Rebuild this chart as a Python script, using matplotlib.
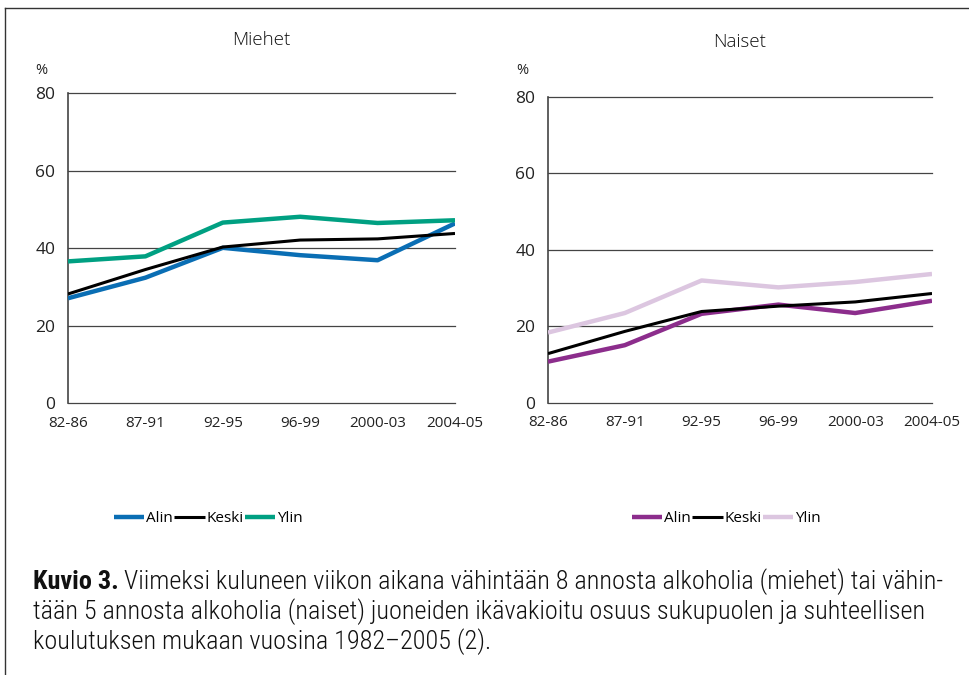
import matplotlib
matplotlib.use("Agg")
import matplotlib.pyplot as plt
from matplotlib.lines import Line2D
from matplotlib import font_manager

categories = ["82-86", "87-91", "92-95", "96-99", "2000-03", "2004-05"]
series_names = ["Alin", "Keski", "Ylin"]

men_alin = [27.1, 32.4, 40.1, 38.2, 36.9, 46.4]
men_keski = [28.2, 34.5, 40.3, 42.1, 42.4, 43.8]
men_ylin = [36.6, 37.9, 46.6, 48.1, 46.5, 47.2]

women_alin = [10.8, 15.1, 23.3, 25.7, 23.5, 26.7]
women_keski = [12.9, 18.7, 23.9, 25.3, 26.4, 28.6]
women_ylin = [18.4, 23.5, 32.0, 30.2, 31.6, 33.7]

y_ticks = [0, 20, 40, 60, 80]

men_colors = ["#0a6eb4", "#000000", "#00a082"]
women_colors = ["#8c2d8c", "#000000", "#dcc6e0"]
widths = [3.2, 2.2, 3.2]

names = {f.name for f in font_manager.fontManager.ttflist}
narrow = "Roboto"
for cand in ["Liberation Sans Narrow", "Roboto Condensed", "Open Sans Condensed"]:
    if cand in names:
        narrow = cand
        break
tickfont = "Open Sans"

fig = plt.figure(figsize=(9.7, 6.75), dpi=100)

# frame
fig.add_artist(Line2D([5/970, 5/970], [0, 1 - 8/675], color="#333333", lw=1, transform=fig.transFigure))
fig.add_artist(Line2D([5/970, 1], [1 - 8/675, 1 - 8/675], color="#333333", lw=1, transform=fig.transFigure))

def panel(rect, title, data, colors, title_y, pct_x):
    ax = fig.add_axes(rect)
    x = list(range(len(categories)))
    for vals, c, w, n in zip(data, colors, widths, series_names):
        ax.plot(x, vals, color=c, lw=w, label=n, solid_capstyle="butt", zorder=3)
    ax.set_xlim(0, len(categories) - 1)
    ax.set_ylim(0, 80)
    ax.set_yticks(y_ticks)
    ax.set_xticks(x)
    ax.set_xticklabels(categories, fontsize=11, family=tickfont, color="#222222")
    ax.set_yticklabels([str(v) for v in y_ticks], fontsize=12.5, family=tickfont, color="#222222")
    ax.tick_params(length=0, pad=9)
    ax.tick_params(axis="x", pad=9)
    for v in y_ticks:
        ax.axhline(v, color="#444444", lw=0.9, zorder=1, clip_on=False)
    for s in ["top", "right", "bottom"]:
        ax.spines[s].set_visible(False)
    ax.spines["left"].set_color("#444444")
    ax.spines["left"].set_linewidth(1.2)
    fig.text(rect[0] + rect[2] / 2, title_y, title, ha="center", va="center",
             fontsize=13.5, family=tickfont, weight="light", color="#111111")
    fig.text(pct_x, 1 - 70/675, "%", ha="center", va="center", fontsize=10.5,
             family=tickfont, color="#222222")
    return ax

axL = panel([68/970, 1 - 403.4/675, (455 - 68)/970, (403.4 - 93)/675], "Miehet",
            [men_alin, men_keski, men_ylin], men_colors, 1 - 40/675, 41/970)
axR = panel([548/970, 1 - 403/675, (932 - 548)/970, (403 - 96.7)/675], "Naiset",
            [women_alin, women_keski, women_ylin], women_colors, 1 - 42/675, 522/970)

for ax, cx in [(axL, 208/970), (axR, 726/970)]:
    h, l = ax.get_legend_handles_labels()
    fig.legend(h, l, loc="center", bbox_to_anchor=(cx, 1 - 519/675), ncol=3, frameon=False,
               handlelength=2.0, handletextpad=0.1, columnspacing=0.1,
               prop={"family": tickfont, "size": 11})

# caption
cap_lines = [
    "Viimeksi kuluneen viikon aikana vähintään 8 annosta alkoholia (miehet) tai vähin-",
    "tään 5 annosta alkoholia (naiset) juoneiden ikävakioitu osuus sukupuolen ja suhteellisen",
    "koulutuksen mukaan vuosina 1982–2005 (2).",
]
cap_x = 33/970
cap_ys = [582, 612, 642]
fs = 14.5
bold = fig.text(cap_x, 1 - cap_ys[0]/675, "Kuvio 3.", fontsize=fs, family=narrow,
                weight="bold", va="center", ha="left", color="#111111")
fig.canvas.draw()
r = fig.canvas.get_renderer()
bb = bold.get_window_extent(renderer=r)
x_after = (bb.x1 + 5) / fig.bbox.width
first = fig.text(x_after, 1 - cap_ys[0]/675, cap_lines[0], fontsize=fs, family=narrow,
                 weight="light", va="center", ha="left", color="#111111")
others = []
for t, y in zip(cap_lines[1:], cap_ys[1:]):
    others.append(fig.text(cap_x, 1 - y/675, t, fontsize=fs, family=narrow, weight="light",
                           va="center", ha="left", color="#111111"))
# fit first line to the reference width (ends near x=940 px)
for _ in range(2):
    fig.canvas.draw()
    right = first.get_window_extent(renderer=r).x1
    scale = (940 - bb.x0) / (right - bb.x0)
    fs = fs * scale
    for t in [bold, first] + others:
        t.set_fontsize(fs)
    fig.canvas.draw()
    bb = bold.get_window_extent(renderer=r)
    first.set_x((bb.x1 + 5) / fig.bbox.width)

fig.savefig("out.png", dpi=100)
